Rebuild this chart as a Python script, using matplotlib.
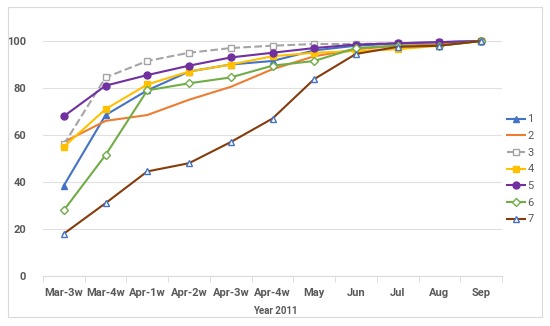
import matplotlib.pyplot as plt
import matplotlib.patches as mpatches
import numpy as np

plt.rcParams['font.family'] = ['Roboto', 'DejaVu Sans']

weeks = ["Mar-3w", "Mar-4w", "Apr-1w", "Apr-2w", "Apr-3w", "Apr-4w",
         "May", "Jun", "Jul", "Aug", "Sep"]

s1 = [38.5, 68.5, 79, 87, 90, 91.5, 96, 98, 99, 99.5, 100]
s2 = [57, 66, 68.5, 75, 80.5, 88, 93.5, 96.5, 98, 98.5, 100]
s3 = [56, 84.5, 91.5, 95, 97, 98, 98.7, 98.7, 99, 99.5, 100]
s4 = [55, 71, 81.5, 87, 90, 93.5, 95, 95.7, 96.5, 98, 100]
s5 = [68, 81, 85.5, 89.5, 93, 95, 97, 98.5, 99, 99.5, 100]
s6 = [28, 51.5, 79, 82, 84.5, 89.5, 91.5, 97, 98, 98, 100]
s7 = [18, 31, 44.5, 48, 57, 67, 83.8, 94.5, 97.5, 98, 100]

fig = plt.figure(figsize=(5.5, 3.26), dpi=100)
fig.patches.append(mpatches.Rectangle((8/550, 1-317/326), 534/550, 310/326,
                                      transform=fig.transFigure, fill=False,
                                      edgecolor="#d9d9d9", linewidth=0.8))
ax = fig.add_axes([43/550, 1-276/326, 459/550, 235/326])

x = np.arange(len(weeks))
kw = dict(linewidth=1.5, markersize=5, clip_on=False)
ax.plot(x, s1, color="#4472C4", marker="^", label="1", **kw)
ax.plot(x, s2, color="#ED7D31", label="2", **kw)
ax.plot(x, s3, color="#A5A5A5", marker="s", mfc="white", linestyle="--", label="3", **kw)
ax.plot(x, s4, color="#FFC000", marker="s", label="4", **kw)
ax.plot(x, s5, color="#7030A0", marker="o", label="5", **kw)
ax.plot(x, s6, color="#70AD47", marker="D", mfc="white", markersize=4, linewidth=1.5, clip_on=False, label="6")
ax.plot(x, s7, color="#843C0C", marker="^", mfc="white", mec="#4472C4", label="7", **kw)

ax.set_xlim(-0.5, len(weeks) - 0.5)
ax.set_ylim(0, 100)
ax.set_yticks(range(0, 101, 20))
ax.set_xticks(x)
ax.set_xticklabels(weeks)
ax.set_xticks(np.arange(-0.5, len(weeks), 1), minor=True)
ax.tick_params(axis="x", which="major", length=0, pad=9)
ax.tick_params(axis="x", which="minor", length=4, color="#d9d9d9")
ax.tick_params(axis="y", length=0, pad=12)
for lab in ax.get_xticklabels() + ax.get_yticklabels():
    lab.set_fontsize(8)
    lab.set_fontweight("bold")
    lab.set_color("#595959")
ax.grid(axis="y", color="#e0e0e0", linewidth=0.8)
ax.set_axisbelow(True)
for sp in ["top", "right", "left"]:
    ax.spines[sp].set_visible(False)
ax.spines["bottom"].set_color("#d9d9d9")

fig.text(275/550, 1-311/326, "Year 2011", ha="center", va="center",
         fontsize=7, fontweight="bold", color="#595959")

leg = ax.legend(loc="upper left", bbox_to_anchor=(503/550, 1-110/326),
                bbox_transform=fig.transFigure, frameon=False, fontsize=8,
                handlelength=1.6, handletextpad=0.2, labelspacing=0.6,
                borderaxespad=0)
for t in leg.get_texts():
    t.set_color("#595959")

fig.savefig("out.png", dpi=100)
